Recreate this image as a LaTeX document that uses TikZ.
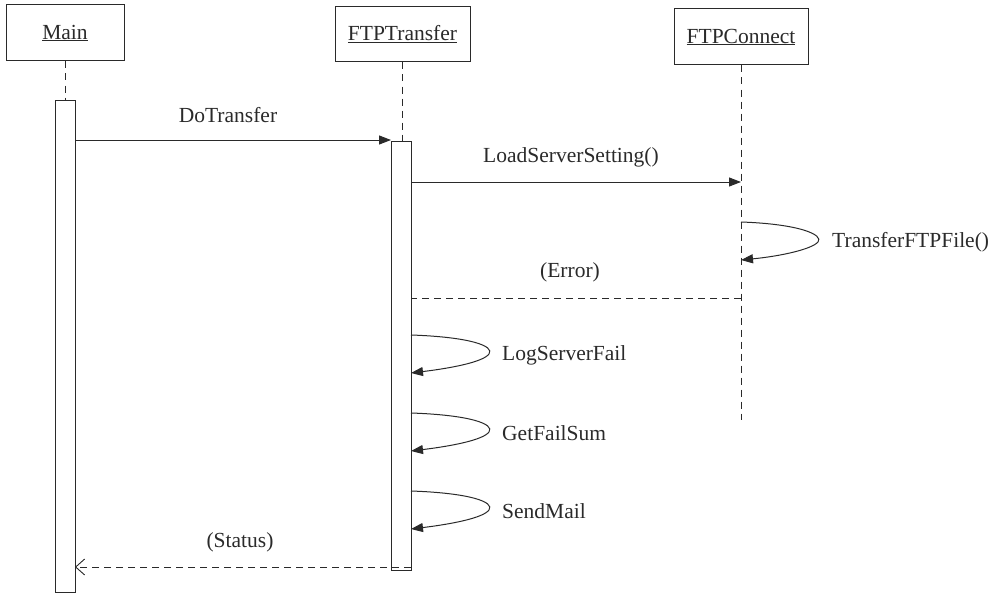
\documentclass[tikz,border=0pt]{standalone}
\usepackage{fontspec}
\setmainfont{Liberation Serif}
\usetikzlibrary{arrows.meta}
\definecolor{ink}{HTML}{2A2A2A}
\begin{document}
\begin{tikzpicture}[x=1pt,y=-1pt,
  every node/.style={font=\fontsize{21.5}{24}\selectfont, text=ink},
  objbox/.style={draw=ink, line width=1pt, fill=white, inner sep=0pt},
  bar/.style={draw=ink, line width=1pt, fill=white, minimum width=20pt, inner sep=0pt},
  life/.style={draw=ink, line width=0.9pt, dash pattern=on 7pt off 5pt},
  msg/.style={draw=ink, line width=1pt, -{Triangle[length=12pt,width=9pt]}},
  ret/.style={draw=ink, line width=1pt, dash pattern=on 7pt off 5pt},
  retarrow/.style={ret, -{Straight Barb[length=9pt,width=16pt,line width=0.9pt]}},
  lbl/.style={inner sep=0pt}
]
\useasboundingbox (0,0) rectangle (996,594);
% objects
\node[objbox, minimum width=118pt, minimum height=56pt] (main) at (65,33) {\underline{Main}};
\node[objbox, minimum width=135pt, minimum height=55pt] (ftpt) at (402.5,34.5) {\underline{FTPTransfer}};
\node[objbox, minimum width=134pt, minimum height=56pt] (ftpc) at (741,37) {\underline{FTPConnect}};
% activation bars
\node[bar, minimum height=492pt] (mainbar) at (65,346) {};
\node[bar, minimum height=429pt] (ftbar) at (401,355.5) {};
% lifelines
\draw[life] (main.south) -- (mainbar.north);
\draw[life] (ftpt.south) -- (ftpt.south |- ftbar.north);
\coordinate (cend) at (741,420);
\draw[life] (ftpc.south) -- (cend);
% message end points
\coordinate (d1) at (75,140);
\coordinate (d2) at (391,140);
\coordinate (l1) at (411,182);
\coordinate (l2) at (741,182);
\coordinate (t1) at (741,222);
\coordinate (t2) at (741,260);
\coordinate (e1) at (741,298);
\coordinate (e2) at (411,298);
\coordinate (g1) at (411,335);
\coordinate (g2) at (411,373);
\coordinate (h1) at (411,413);
\coordinate (h2) at (411,451);
\coordinate (s1) at (411,491);
\coordinate (s2) at (411,529);
\coordinate (r1) at (411,567);
\coordinate (r2) at (75,567);
% messages
\draw[msg] (d1) -- (d2);
\node[lbl] (ldo) at (228,115) {DoTransfer};
\draw[msg] (l1) -- (l2);
\node[lbl] (lls) at (571,157) {LoadServerSetting()};
\draw[msg] (t1) .. controls (800,224) and (824,235) .. (818,242) .. controls (812,249) and (782,256) .. (t2);
\node[lbl, anchor=west] (ltf) at (832,242) {TransferFTPFile()};
\draw[ret] (e1) -- (e2);
\node[lbl] (ler) at (570,272) {(Error)};
\draw[msg] (g1) .. controls (470,337) and (495,346) .. (489,354) .. controls (483,362) and (452,368) .. (g2);
\node[lbl, anchor=west] (llg) at (502,355) {LogServerFail};
\draw[msg] (h1) .. controls (470,415) and (495,424) .. (489,432) .. controls (483,440) and (452,446) .. (h2);
\node[lbl, anchor=west] (lgf) at (502,433) {GetFailSum};
\draw[msg] (s1) .. controls (470,493) and (495,502) .. (489,510) .. controls (483,518) and (452,524) .. (s2);
\node[lbl, anchor=west] (lsm) at (502,511) {SendMail};
\draw[retarrow] (r1) -- (r2);
\node[lbl] (lst) at (240,542) {(Status)};
\end{tikzpicture}
\end{document}
